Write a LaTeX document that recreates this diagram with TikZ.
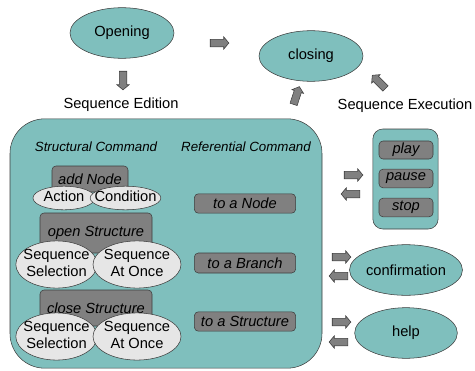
\documentclass[tikz,border=0pt]{standalone}
\usepackage{fontspec}
\setmainfont{Liberation Sans}
\usetikzlibrary{shapes.geometric,shapes.arrows}

\definecolor{tealfill}{RGB}{127,191,189}
\definecolor{cmdgray}{RGB}{128,128,128}
\definecolor{optgray}{RGB}{230,230,230}
\definecolor{edgegray}{RGB}{60,60,60}

% text that does not make the ellipse grow
\newcommand{\fitin}[1]{\makebox[0pt]{\begin{tabular}{@{}c@{}}#1\end{tabular}}}

\tikzset{
  txt/.style={font=\fontsize{11}{12.5}\selectfont, align=center},
  state/.style={ellipse, draw=edgegray, fill=tealfill, inner sep=0pt, minimum width=78pt, minimum height=38pt, txt},
  cmd/.style={rectangle, rounded corners=3pt, draw=edgegray, fill=cmdgray, inner sep=0pt, txt, font=\fontsize{11}{12.5}\selectfont\itshape},
  opt/.style={ellipse, draw=edgegray, fill=optgray, inner sep=0pt, txt},
  blockarrow/.style={single arrow, draw=edgegray, fill=cmdgray, inner sep=2.6pt, minimum height=14pt, minimum width=0pt, single arrow head extend=1.8pt, single arrow tip angle=100},
}

\begin{document}
\begin{tikzpicture}[x=0.75pt, y=-0.75pt]
\useasboundingbox (0,0) rectangle (475,371);

% top of the diagram
\node(opening) at (122, 33) [state] {Opening};
\node(closing) at (311, 56) [state] {closing};
\node(edition) at (121, 105) [txt] {Sequence Edition};
\node(execution) at (405, 106) [txt] {Sequence Execution};

\node(opentoclose) at (218, 43) [blockarrow] {};
\node(opendown) at (123, 79) [blockarrow, rotate=270] {};
\node(editup) at (296, 97) [blockarrow, rotate=72] {};
\node(execup) at (380, 83) [blockarrow, rotate=135] {};

% sequence edition
\node(editbox) at (166, 243.5) [draw=edgegray, fill=tealfill, rounded corners=26pt, minimum width=234pt, minimum height=187pt] {};
\node(structural) at (96, 147) [txt, font=\fontsize{10}{12}\selectfont\itshape] {Structural Command};
\node(referential) at (246, 147) [txt, font=\fontsize{10}{12}\selectfont\itshape] {Referential Command};

\node(addnode) at (90, 179) [cmd, minimum width=57pt, minimum height=19.5pt] {add Node};
\node(action) at (64, 198) [opt, minimum width=46.5pt, minimum height=17.5pt] {\fitin{Action}};
\node(condition) at (125.5, 198) [opt, minimum width=53pt, minimum height=17.5pt] {\fitin{Condition}};

\node(openstruct) at (96, 233) [cmd, minimum width=84pt, minimum height=30pt] {open Structure};
\node(opensel) at (56.5, 264.5) [opt, minimum width=61pt, minimum height=34pt] {\fitin{Sequence\\Selection}};
\node(openonce) at (137, 264.5) [opt, minimum width=66pt, minimum height=34pt] {\fitin{Sequence\\At Once}};

\node(closestruct) at (96, 308) [cmd, minimum width=84pt, minimum height=27pt] {close Structure};
\node(closesel) at (56.5, 336.5) [opt, minimum width=61pt, minimum height=33pt] {\fitin{Sequence\\Selection}};
\node(closeonce) at (137, 336.5) [opt, minimum width=66pt, minimum height=33pt] {\fitin{Sequence\\At Once}};

\node(tonode) at (245, 203.5) [cmd, minimum width=76pt, minimum height=14.5pt] {to a Node};
\node(tobranch) at (245, 263) [cmd, minimum width=76pt, minimum height=15pt] {to a Branch};
\node(tostruct) at (245, 321.5) [cmd, minimum width=76pt, minimum height=14.5pt] {to a Structure};

% sequence execution
\node(player) at (405.5, 179) [draw=edgegray, fill=tealfill, rounded corners=7.5pt, minimum width=49pt, minimum height=75pt] {};
\node(play) at (406, 150) [cmd, minimum width=40.5pt, minimum height=13.5pt] {play};
\node(pause) at (406, 178.5) [cmd, minimum width=40.5pt, minimum height=14pt] {pause};
\node(stop) at (406, 207.5) [cmd, minimum width=40.5pt, minimum height=14pt] {stop};

\node(confirmation) at (406, 270) [state, minimum width=77pt] {confirmation};
\node(help) at (406, 333) [state, minimum width=77pt] {help};

\node(playin) at (352, 175) [blockarrow] {};
\node(playout) at (352, 194) [blockarrow, rotate=180] {};
\node(confin) at (340, 257) [blockarrow] {};
\node(confout) at (340, 276) [blockarrow, rotate=180] {};
\node(helpin) at (340, 322) [blockarrow] {};
\node(helpout) at (340, 342) [blockarrow, rotate=180] {};

\end{tikzpicture}
\end{document}
